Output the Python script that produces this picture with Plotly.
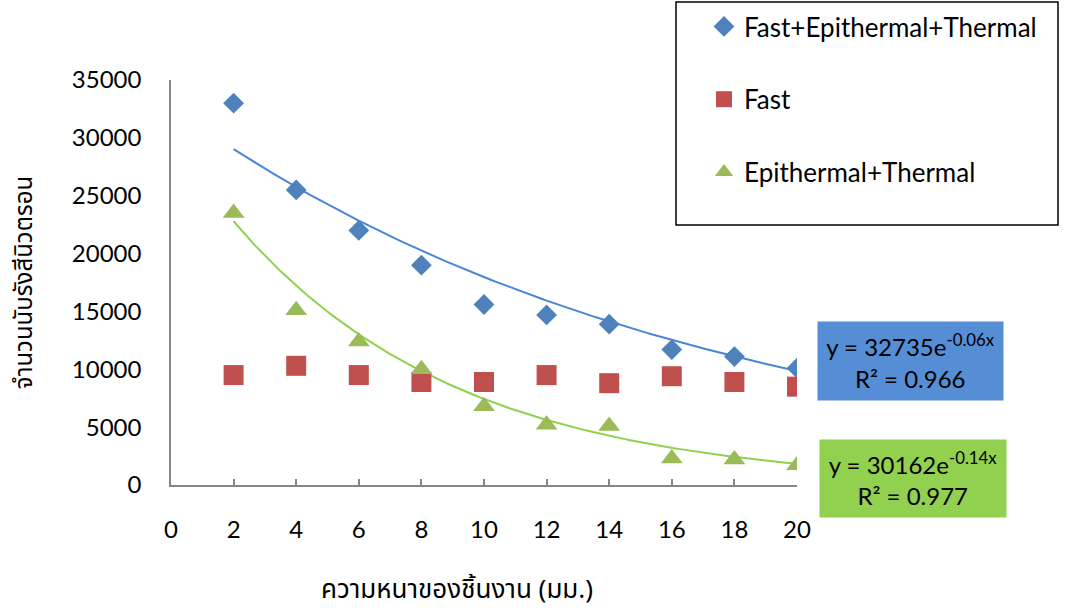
import numpy as np
import plotly.graph_objects as go

# Sample thickness (mm)
thickness = [2, 4, 6, 8, 10, 12, 14, 16, 18, 20]

# Neutron counts per component
total_counts = [33000, 25500, 22000, 19000, 15600, 14700, 13900, 11700, 11100, 10100]
fast_counts = [9500, 10300, 9500, 8900, 8900, 9500, 8800, 9400, 8900, 8500]
epi_thermal_counts = [23500, 15100, 12400, 10000, 6800, 5200, 5100, 2300, 2200, 1700]

series_names = ["Fast+Epithermal+Thermal", "Fast", "Epithermal+Thermal"]
x_title = "ความหนาของชิ้นงาน (มม.)"
y_title = "จำนวนนับรังสีนิวตรอน"

# Exponential fits y = a * exp(b * x) and their R^2
fit_total = (32735, -0.06, 0.966)
fit_epi = (30162, -0.14, 0.977)

FONT = "Lato, 'Open Sans', sans-serif"
THAI_FONT = "'Noto Sans Thai', 'Noto Sans', 'DejaVu Sans', sans-serif"

fig = go.Figure()

# Trendlines
xs = np.linspace(min(thickness), max(thickness), 200)
fig.add_trace(go.Scatter(x=xs, y=fit_total[0] * np.exp(fit_total[1] * xs), mode="lines",
                         line=dict(color="#4A86D6", width=2), showlegend=False, hoverinfo="skip"))
fig.add_trace(go.Scatter(x=xs, y=fit_epi[0] * np.exp(fit_epi[1] * xs), mode="lines",
                         line=dict(color="#8FD14F", width=2), showlegend=False, hoverinfo="skip"))

# Data points
fig.add_trace(go.Scatter(x=thickness, y=total_counts, mode="markers", name=series_names[0],
                         legendgroup="a",
                         marker=dict(symbol="diamond", size=16, color="#4F81BD")))
fig.add_trace(go.Scatter(x=thickness, y=fast_counts, mode="markers", name=series_names[1],
                         legendgroup="b",
                         marker=dict(symbol="square", size=20, color="#C0504D")))
fig.add_trace(go.Scatter(x=thickness, y=epi_thermal_counts, mode="markers", name=series_names[2],
                         legendgroup="c",
                         marker=dict(symbol="triangle-up", size=19, color="#9BBB59")))

L, R, T, B = 171, 268, 80, 125
W, H = 1065, 610
pw, ph = W - L - R, H - T - B


def px(x):
    return (x - L) / pw


def py(y):
    return (H - B - y) / ph


def eq_text(a, b, r2):
    return f"y = {a}e<sup>{b:.2f}x</sup><br>R² = {r2:.3f}"


fig.add_annotation(text=eq_text(*fit_total), xref="paper", yref="paper",
                   x=px(910), y=py(361), xanchor="center", yanchor="middle",
                   showarrow=False, align="center", width=181, height=74, borderpad=2,
                   bgcolor="#558ED5", font=dict(family=FONT, size=24, color="black"))
fig.add_annotation(text=eq_text(*fit_epi), xref="paper", yref="paper",
                   x=px(913), y=py(478), xanchor="center", yanchor="middle",
                   showarrow=False, align="center", width=182, height=73, borderpad=2,
                   bgcolor="#92D050", font=dict(family=FONT, size=24, color="black"))

# X axis title, centred under the tick labels as in the original layout
fig.add_annotation(text=x_title, xref="paper", yref="paper",
                   x=px(457), y=py(590), xanchor="center", yanchor="middle",
                   showarrow=False, font=dict(family=THAI_FONT, size=26, color="black"))

# Legend frame
fig.add_shape(type="rect", xref="paper", yref="paper",
              x0=px(676), x1=px(1058), y0=py(225), y1=py(2),
              line=dict(color="black", width=1.5), fillcolor="rgba(0,0,0,0)")

fig.update_layout(
    width=W, height=H,
    margin=dict(l=L, r=R, t=T, b=B, autoexpand=False),
    paper_bgcolor="white", plot_bgcolor="white",
    font=dict(family=FONT, size=24, color="black"),
    legend=dict(x=px(704), y=py(3), xanchor="left", yanchor="top",
                bgcolor="rgba(0,0,0,0)", borderwidth=0,
                tracegroupgap=36, font=dict(family=FONT, size=26, color="black")),
    xaxis=dict(range=[0, 20], dtick=2, tick0=0, showgrid=False, zeroline=False,
               showline=True, linecolor="#868686", linewidth=1.5,
               ticks="inside", ticklen=6, tickcolor="#868686", tickwidth=1.5,
               ticklabelstandoff=22,
               tickfont=dict(family=FONT, size=24, color="black")),
    yaxis=dict(range=[0, 35000], dtick=5000, showgrid=False, zeroline=False,
               showline=True, linecolor="#868686", linewidth=1.5,
               ticks="", ticklabelstandoff=23, tickformat="d",
               tickfont=dict(family=FONT, size=24, color="black"),
               title=dict(text=y_title, standoff=32,
                          font=dict(family=THAI_FONT, size=24, color="black"))),
)

fig.write_html("out.html")
